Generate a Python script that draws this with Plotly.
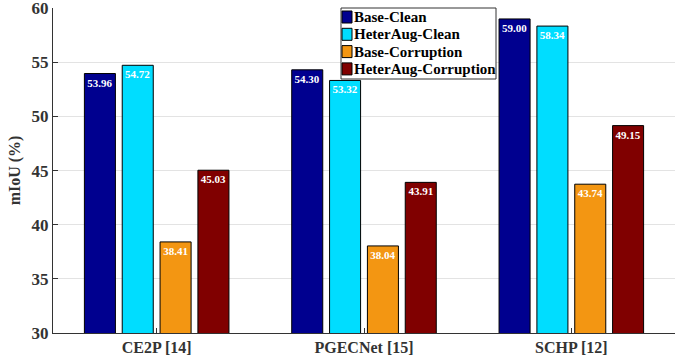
import plotly.graph_objects as go

categories = ["CE2P [14]", "PGECNet [15]", "SCHP [12]"]
series_names = ["Base-Clean", "HeterAug-Clean", "Base-Corruption", "HeterAug-Corruption"]
base_clean = [53.96, 54.30, 59.00]
heteraug_clean = [54.72, 53.32, 58.34]
base_corruption = [38.41, 38.04, 43.74]
heteraug_corruption = [45.03, 43.91, 49.15]
colors = ["#00008F", "#00DDFF", "#F39612", "#800000"]
y_ticks = [30, 35, 40, 45, 50, 55, 60]

font_family = "Liberation Serif"
W, H = 694, 356
L, R, T, B = 53, 19, 8, 23
pw, ph = W - L - R, H - T - B

fig = go.Figure()
for name, vals, col in zip(series_names,
                           [base_clean, heteraug_clean, base_corruption, heteraug_corruption],
                           colors):
    fig.add_trace(go.Bar(
        name=name, x=categories, y=vals,
        marker=dict(color=col, line=dict(color="black", width=1)),
        text=[f"<b>{v:.2f}</b>" for v in vals],
        textposition="inside", insidetextanchor="end",
        textangle=0, constraintext="none",
        textfont=dict(color="white", size=11, family=font_family),
        cliponaxis=False, showlegend=False, hoverinfo="skip",
    ))

# custom legend (paper coords from pixel positions)
def px_x(x):
    return (x - L) / pw

def px_y(y):
    return 1 - (y - T) / ph

shapes = [dict(type="rect", xref="paper", yref="paper",
               x0=px_x(341), x1=px_x(496), y0=px_y(79), y1=px_y(8),
               line=dict(color="#333333", width=1), fillcolor="white", layer="above")]
annotations = []
for i, (name, col) in enumerate(zip(series_names, colors)):
    cy = 17 + i * 17.3
    shapes.append(dict(type="rect", xref="paper", yref="paper",
                       x0=px_x(342), x1=px_x(352), y0=px_y(cy + 6), y1=px_y(cy - 6),
                       line=dict(color="black", width=1), fillcolor=col, layer="above"))
    annotations.append(dict(xref="paper", yref="paper", x=px_x(352), y=px_y(cy),
                            xanchor="left", yanchor="middle", showarrow=False,
                            text=f"<b>{name}</b>",
                            font=dict(size=15, color="black", family=font_family)))

fig.update_layout(
    width=W, height=H,
    margin=dict(l=L, r=R, t=T, b=B, autoexpand=False),
    paper_bgcolor="white", plot_bgcolor="white",
    barmode="group", bargap=0.27, bargroupgap=0.18,
    font=dict(family=font_family, color="#333333"),
    showlegend=False,
    shapes=shapes, annotations=annotations,
)
fig.update_xaxes(
    range=[-0.5, 2.5], showline=True, linecolor="#333333", linewidth=1,
    ticks="inside", ticklen=5, tickcolor="#333333",
    tickvals=categories, ticktext=[f"<b>{c}</b>" for c in categories],
    tickfont=dict(size=16, color="#333333", family=font_family),
    showgrid=False, mirror=False, automargin=False, ticklabeloverflow="allow",
)
fig.update_yaxes(
    range=[30, 60.01], tickvals=y_ticks,
    ticktext=[f"<b>{t}</b>" for t in y_ticks],
    showline=True, linecolor="#333333", linewidth=1,
    ticks="inside", ticklen=5, tickcolor="#333333",
    tickfont=dict(size=17, color="#333333", family=font_family),
    showgrid=True, gridcolor="#E3E3E3", gridwidth=1,
    title=dict(text="<b>mIoU (%)</b>", font=dict(size=16, color="#333333", family=font_family), standoff=6),
    zeroline=False, automargin=False, ticklabeloverflow="allow",
)

fig.write_html("out.html", config={"displayModeBar": False},
               post_script="document.body.style.margin='0px';")
